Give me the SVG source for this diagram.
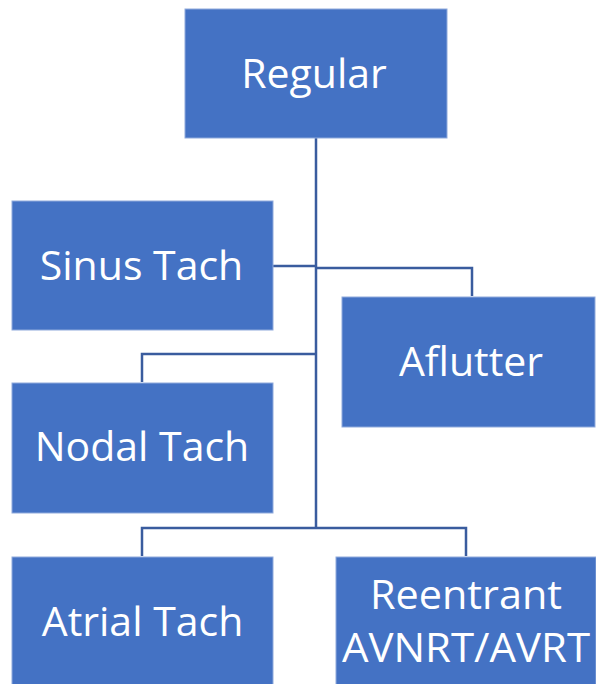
<svg xmlns="http://www.w3.org/2000/svg" width="596" height="684" viewBox="0 0 596 684">
  <style>
    .box { fill: #4472C4; stroke: #8FAADC; stroke-width: 1; }
    .lbl { fill: #FFFFFF; font-family: "Open Sans", "Noto Sans", sans-serif; font-size: 41px; text-anchor: middle; }
    .wire { fill: none; stroke: #3A5C9E; stroke-width: 2.5; }
  </style>
  <rect width="596" height="684" fill="#FFFFFF"/>

  <!-- connectors -->
  <g id="connectors">
    <path class="wire" d="M316,138 V528"/>
    <path class="wire" d="M273,266 H316"/>
    <path class="wire" d="M316,268 H472 V296"/>
    <path class="wire" d="M316,354 H142 V382"/>
    <path class="wire" d="M142,556 V528 H466 V556"/>
  </g>

  <g id="regular">
    <rect class="box" x="185" y="9" width="262" height="129"/>
    <text class="lbl" x="314" y="88">Regular</text>
  </g>
  <g id="sinus-tach">
    <rect class="box" x="12" y="201" width="261" height="129"/>
    <text class="lbl" x="141.5" y="280">Sinus Tach</text>
  </g>
  <g id="aflutter">
    <rect class="box" x="342" y="297" width="253" height="130"/>
    <text class="lbl" x="471" y="376">Aflutter</text>
  </g>
  <g id="nodal-tach">
    <rect class="box" x="12" y="383" width="261" height="130"/>
    <text class="lbl" x="142" y="461">Nodal Tach</text>
  </g>
  <g id="atrial-tach">
    <rect class="box" x="12" y="557" width="261" height="135"/>
    <text class="lbl" x="142.5" y="636">Atrial Tach</text>
  </g>
  <g id="reentrant">
    <rect class="box" x="336" y="557" width="260" height="135"/>
    <text class="lbl" x="466" y="609" textLength="192" lengthAdjust="spacingAndGlyphs">Reentrant</text>
    <text class="lbl" x="466" y="662" textLength="248" lengthAdjust="spacingAndGlyphs">AVNRT/AVRT</text>
  </g>
</svg>
